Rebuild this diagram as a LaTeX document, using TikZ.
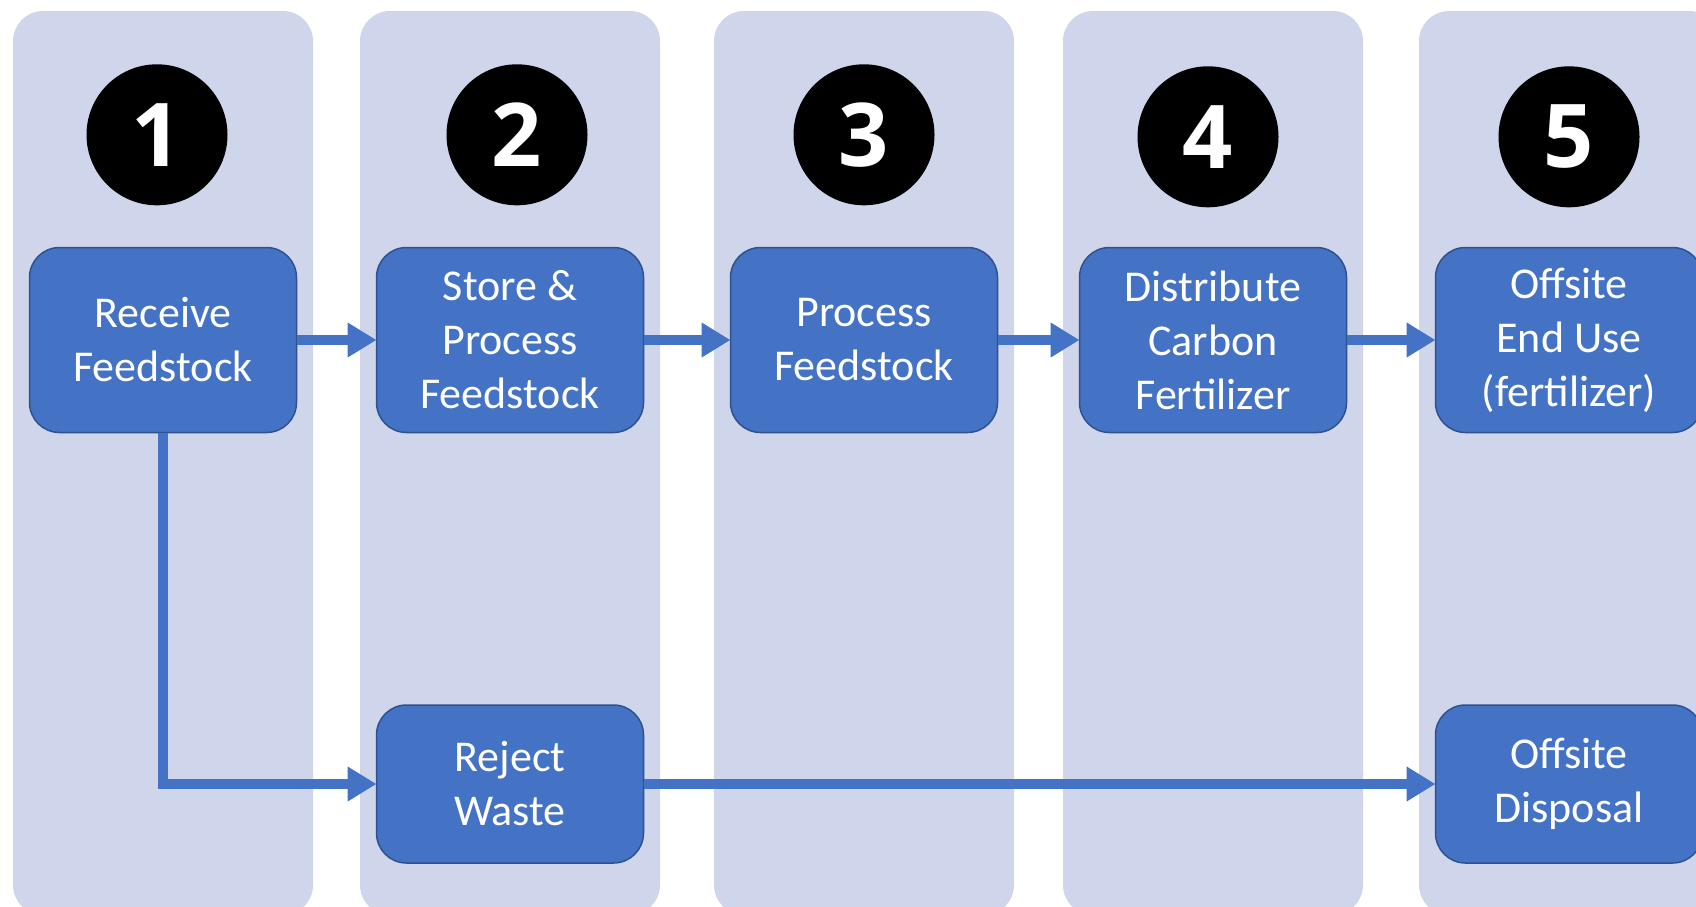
\documentclass[tikz,border=0pt]{standalone}
\usepackage{fontspec}
\setmainfont{Carlito}
\newfontfamily\badgefont{Open Sans}
\usetikzlibrary{positioning}
\usetikzlibrary{arrows.meta}
\usetikzlibrary{backgrounds}
\definecolor{laneBlue}{HTML}{CFD5EA}
\definecolor{stepBlue}{HTML}{4472C4}
\definecolor{stepEdge}{HTML}{2F528F}
\tikzstyle{lane} = [fill=laneBlue, rounded corners=30pt, minimum width=300pt, minimum height=904pt, inner sep=0pt]
\tikzstyle{process} = [draw=stepEdge, line width=1.5pt, fill=stepBlue, rounded corners=30pt, outer sep=0pt, minimum width=267pt, minimum height=185pt, text=white, align=center, font=\fontsize{44}{54}\selectfont]
\tikzstyle{badge} = [circle, fill=black, minimum size=141pt, inner sep=0pt, text=white, font=\badgefont\fontsize{88}{90}\selectfont\bfseries]
\tikzstyle{flow} = [draw=stepBlue, line width=10pt, -{Triangle[length=29pt,width=33pt]}]

\begin{document}
\begin{tikzpicture}[x=1pt, y=-1pt, node distance=82pt]
	\useasboundingbox (0,0) rectangle (1696,906);
	\coordinate (laneMid) at (0,463);
	\coordinate (lowRow) at (0,784);
	
	\node[process] (receive) at (163,340) {Receive\\Feedstock};
	\node[process, right = 80pt of receive] (store) {Store \&\\Process\\Feedstock};
	\node[process, right = 87pt of store] (treat) {Process\\Feedstock};
	\node[process, right = 82pt of treat] (distribute) {Distribute\\Carbon\\Fertilizer};
	\node[process, right = 89pt of distribute] (endUse) {Offsite\\End Use\\(fertilizer)};
	\node[process, minimum height=158pt] (reject) at (store |- lowRow) {Reject\\Waste};
	\node[process, minimum height=158pt] (disposal) at (endUse |- lowRow) {Offsite\\Disposal};
	
	\node[badge, above = 42pt of receive, xshift=-6pt] (stepOne) {1};
	\node[badge, above = 42pt of store, xshift=7pt] (stepTwo) {2};
	\node[badge, above = 42pt of treat] (stepThree) {3};
	\node[badge, above = 40pt of distribute, xshift=-5pt] (stepFour) {4};
	\node[badge, above = 40pt of endUse] (stepFive) {5};
	
	\begin{scope}[on background layer]
		\foreach \col in {receive, store, treat, distribute, endUse}
			\node[lane] at (\col |- laneMid) {};
	\end{scope}
	
	\path[flow] (receive) -- (store);
	\path[flow] (store) -- (treat);
	\path[flow] (treat) -- (distribute);
	\path[flow] (distribute) -- (endUse);
	\path[flow] (receive) |- (reject);
	\path[flow] (reject) -- (disposal);
\end{tikzpicture}
\end{document}
